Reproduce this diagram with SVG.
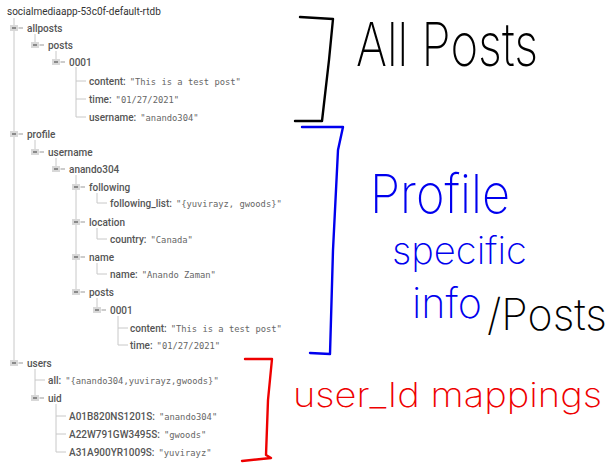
<svg xmlns="http://www.w3.org/2000/svg" width="610" height="475" viewBox="0 0 610 475">
<style>
.t{font-family:Roboto,"Liberation Sans",sans-serif;font-size:10px}
.k{font-weight:500;fill:#555}
.v{font-family:"DejaVu Sans Mono","Liberation Mono",monospace;font-size:8.8px;fill:#666;font-weight:normal}
.ln{stroke:#c8c8c8;stroke-width:1;fill:none}
.ib{fill:#d8d8d8}
.id{fill:#6a6a6a}
.dash{stroke:#999;stroke-width:1}
.hw{font-family:Inter,"DejaVu Sans",sans-serif;font-weight:200}
.br{fill:none;stroke-width:2.4;stroke-linecap:round;stroke-linejoin:round}
</style>
<defs>
<g id="ic"><rect class="ib" x="-4" y="-3" width="8" height="6"/><rect class="id" x="-2" y="-0.7" width="4" height="1.4"/><line class="dash" x1="4.5" y1="0" x2="9" y2="0"/></g>
</defs>
<rect width="610" height="475" fill="#fff"/>
<text class="t" x="7" y="15" fill="#333">socialmediaapp-53c0f-default-rtdb</text>
<g id="connectors">
<path class="ln" d="M14,18V363"/>
<path class="ln" d="M35,34V45"/>
<path class="ln" d="M56,51V62"/>
<path class="ln" d="M76,67V117M76,81H86M76,99H86M76,117H86"/>
<path class="ln" d="M35,140V152"/>
<path class="ln" d="M56,158V169"/>
<path class="ln" d="M76,175V292"/>
<path class="ln" d="M97,193V203H107"/>
<path class="ln" d="M97,228V239H107"/>
<path class="ln" d="M97,263V274H107"/>
<path class="ln" d="M97,298V310"/>
<path class="ln" d="M118,316V345M118,328H128M118,345H128"/>
<path class="ln" d="M35,369V398M35,380H45"/>
<path class="ln" d="M56,404V452M56,416H66M56,434H66M56,452H66"/>
</g>
<g id="n-allposts"><use href="#ic" x="14" y="28"/><text class="t k" x="27" y="31.5">allposts</text></g>
<g id="n-allposts-posts"><use href="#ic" x="35" y="45"/><text class="t k" x="48" y="48.5">posts</text></g>
<g id="n-allposts-0001"><use href="#ic" x="56" y="62"/><text class="t k" x="69" y="65.5">0001</text></g>
<g id="n-ap-content"><text class="t k" x="89" y="84.5">content:<tspan class="v" dx="4">"This is a test post"</tspan></text></g>
<g id="n-ap-time"><text class="t k" x="89" y="102.5">time:<tspan class="v" dx="4">"01/27/2021"</tspan></text></g>
<g id="n-ap-username"><text class="t k" x="89" y="120.5">username:<tspan class="v" dx="4">"anando304"</tspan></text></g>
<g id="n-profile"><use href="#ic" x="14" y="134"/><text class="t k" x="27" y="137.5">profile</text></g>
<g id="n-pr-username"><use href="#ic" x="35" y="152"/><text class="t k" x="48" y="155.5">username</text></g>
<g id="n-anando304"><use href="#ic" x="56" y="169"/><text class="t k" x="69" y="172.5">anando304</text></g>
<g id="n-following"><use href="#ic" x="76" y="187"/><text class="t k" x="89" y="190.5">following</text></g>
<g id="n-following-list"><text class="t k" x="110" y="206.5">following_list:<tspan class="v" dx="4">"{yuvirayz, gwoods}"</tspan></text></g>
<g id="n-location"><use href="#ic" x="76" y="222"/><text class="t k" x="89" y="225.5">location</text></g>
<g id="n-country"><text class="t k" x="110" y="242.5">country:<tspan class="v" dx="4">"Canada"</tspan></text></g>
<g id="n-name"><use href="#ic" x="76" y="257"/><text class="t k" x="89" y="260.5">name</text></g>
<g id="n-name-val"><text class="t k" x="110" y="277.5">name:<tspan class="v" dx="4">"Anando Zaman"</tspan></text></g>
<g id="n-pr-posts"><use href="#ic" x="76" y="292"/><text class="t k" x="89" y="295.5">posts</text></g>
<g id="n-pr-0001"><use href="#ic" x="97" y="310"/><text class="t k" x="110" y="313.5">0001</text></g>
<g id="n-pr-content"><text class="t k" x="130" y="331.5">content:<tspan class="v" dx="4">"This is a test post"</tspan></text></g>
<g id="n-pr-time"><text class="t k" x="130" y="348.5">time:<tspan class="v" dx="4">"01/27/2021"</tspan></text></g>
<g id="n-users"><use href="#ic" x="14" y="363"/><text class="t k" x="27" y="366.5">users</text></g>
<g id="n-all"><text class="t k" x="48" y="383.5">all:<tspan class="v" dx="4">"{anando304,yuvirayz,gwoods}"</tspan></text></g>
<g id="n-uid"><use href="#ic" x="35" y="398"/><text class="t k" x="48" y="401.5">uid</text></g>
<g id="n-uid1"><text class="t k" x="69" y="419.5">A01B820NS1201S:<tspan class="v" dx="4">"anando304"</tspan></text></g>
<g id="n-uid2"><text class="t k" x="69" y="437.5">A22W791GW3495S:<tspan class="v" dx="4">"gwoods"</tspan></text></g>
<g id="n-uid3"><text class="t k" x="69" y="455.5">A31A900YR1009S:<tspan class="v" dx="4">"yuvirayz"</tspan></text></g>
<g id="annotations">
<path class="br" stroke="#000" d="M300,17 L333,19 L329,60 L322,121 L295,121"/>
<text class="hw" x="356" y="66" font-size="60" fill="#000" textLength="182" lengthAdjust="spacingAndGlyphs">All Posts</text>
<path class="br" stroke="#0000ee" d="M302,127 L343,127 L338,150 L333,250 L330,354 L310,353"/>
<text class="hw" x="370" y="213" font-size="54" fill="#0000ee" textLength="140" lengthAdjust="spacingAndGlyphs">Profile</text>
<text class="hw" x="392" y="264" font-size="38" fill="#0000ee" textLength="135" lengthAdjust="spacingAndGlyphs">specific</text>
<text class="hw" x="412" y="318" font-size="42" fill="#0000ee" textLength="70" lengthAdjust="spacingAndGlyphs">info</text>
<text class="hw" x="487" y="330" font-size="44" fill="#000" textLength="120" lengthAdjust="spacingAndGlyphs">/Posts</text>
<path class="br" stroke="#ee0000" d="M245,359 L272,359 L268,400 L266,455 L271,458 L242,461"/>
<text class="hw" x="293" y="407" font-size="34" fill="#ee0000" textLength="309" lengthAdjust="spacingAndGlyphs">user_Id mappings</text>
</g>
</svg>
